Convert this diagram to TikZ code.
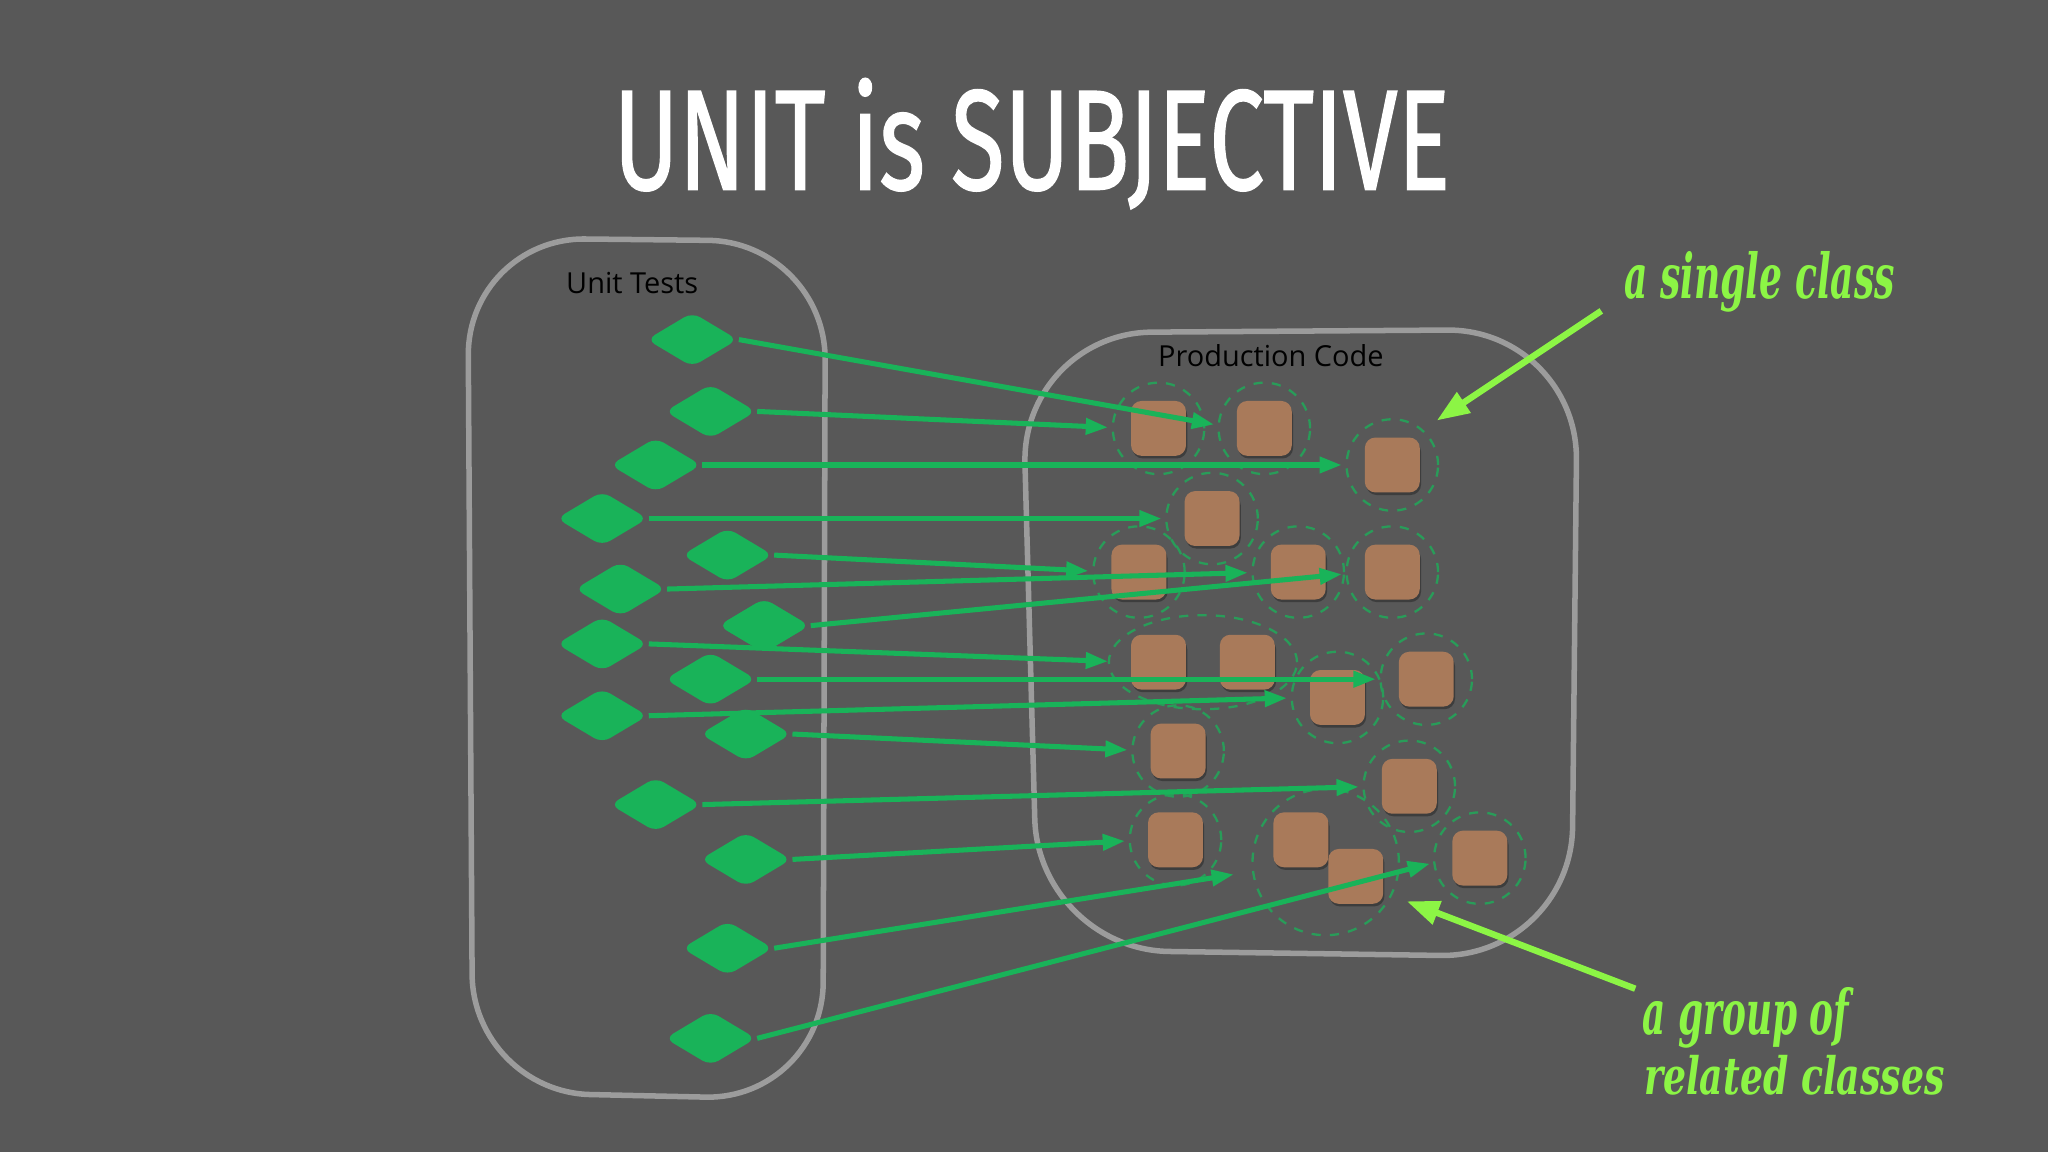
\documentclass[tikz,border=0pt]{standalone}
\usepackage{fontspec}
\usepackage{graphicx}
\setmainfont{Open Sans}
\newfontfamily\titlefont{Fira Sans}[FakeBold=1.2]
\newfontfamily\notefont{DejaVu Serif}
\usetikzlibrary{shapes.geometric,arrows.meta}
\definecolor{bg}{HTML}{585858}
\definecolor{tgreen}{HTML}{19B359}
\definecolor{box}{HTML}{A97A5A}
\definecolor{frame}{HTML}{9C9C9C}
\definecolor{note}{HTML}{8CF545}
\tikzset{
  testd/.style={diamond,fill=tgreen,minimum width=0.7cm,minimum height=0.42cm,inner sep=0pt,rounded corners=2pt},
  cls/.style={fill=box,minimum size=0.42cm,inner sep=0pt,rounded corners=0.08cm},
  ring/.style={draw=tgreen!75!bg,dashed,line width=0.5pt,dash pattern=on 2pt off 2pt},
  link/.style={draw=tgreen,line width=1.1pt,-{Triangle[length=0.17cm,width=0.12cm]},shorten >=0.17cm},
  noteline/.style={draw=note,line width=1.4pt,-{Triangle[length=0.25cm,width=0.18cm]}},
  cont/.style={draw=frame,line width=1.2pt},
  notetext/.style={text=note,font=\notefont\itshape\bfseries\fontsize{9}{9}\selectfont,inner sep=0pt}
}
\begin{document}
\begin{tikzpicture}[x=0.01cm,y=-0.01cm]
\fill[bg] (0,0) rectangle (1568,882);
\useasboundingbox (0,0) rectangle (1568,882);
\node[text=white,inner sep=0] (title) at (790,110) {\resizebox{6.4cm}{0.85cm}{\titlefont UNIT is SUBJECTIVE}};
% containers
\draw[cont,rounded corners=0.9cm] (358,182) -- (632,185) -- (630,842) -- (362,836) -- cycle;
\draw[cont,rounded corners=1.0cm] (782,255) -- (1208,252) -- (1203,733) -- (795,727) -- cycle;
\node[font=\fontsize{6.3}{8}\selectfont,text=black] (ut) at (484,217) {Unit Tests};
\node[font=\fontsize{6.3}{8}\selectfont,text=black] (pc) at (973,272) {Production Code};
% rings
\foreach \p in {(887,328),(968,328),(1066,356),(928,397),(872,438),(994,438),(1066,438),(1092,520),(1024,534),(902,575),(1079,602),(900,643),(1133,657)}
  \draw[ring] \p circle (0.35cm);
\draw[ring] (921,507) ellipse (0.72cm and 0.36cm);
\draw[ring] (1015,660) circle (0.56cm);
% classes
\foreach \n/\x/\y in {A/887/328,B/968/328,C/1066/356,D/928/397,E/872/438,F/994/438,G/1066/438,H/887/507,I/955/507,J/1024/534,K/1092/520,L/902/575,M/1079/602,N/900/643,O/996/643,P/1038/671,Q/1133/657}{
  \fill[black,opacity=0.3,rounded corners=0.08cm] (\x-20,\y-18) rectangle (\x+22,\y+23);
  \node[cls] (\n) at (\x,\y) {};
}
% tests
\foreach \n/\x/\y in {t1/530/260,t2/544/315,t3/502/356,t4/461/397,t5/557/425,t6/475/451,t8/461/493,t10/461/548,t7/585/479,t9/544/520,t11/571/562,t12/502/616,t13/571/658,t14/557/726,t15/544/795}
  \node[testd] (\n) at (\x,\y) {};
% links
\draw[link] (t1.east) -- (B.west);
\draw[link] (t2.east) -- (A.west);
\draw[link] (t3.east) -- (C.west);
\draw[link] (t4.east) -- (D.west);
\draw[link] (t5.east) -- (E.west);
\draw[link] (t6.east) -- (F.west);
\draw[link] (t7.east) -- (G.west);
\draw[link] (t8.east) -- (H.west);
\draw[link] (t9.east) -- (K.west);
\draw[link] (t10.east) -- (J.west);
\draw[link] (t11.east) -- (L.west);
\draw[link] (t12.east) -- (M.west);
\draw[link] (t13.east) -- (N.west);
\draw[link,shorten >=0.3cm] (t14.east) -- (O.south west);
\draw[link] (t15.east) -- (Q.west);
\node[testd] at (585,479) {};
% notes
\node[notetext,anchor=west] (n1) at (1243,216) {\resizebox{2.07cm}{0.36cm}{a single class}};
\node[notetext,anchor=west] (n2) at (1257,779) {\resizebox{1.58cm}{0.36cm}{a group of}};
\node[notetext,anchor=west] (n3) at (1258,823) {\resizebox{2.3cm}{0.3cm}{related classes}};
\coordinate (c1s) at (1226,238);
\coordinate (c1e) at (1100,322);
\coordinate (c2s) at (1252,757);
\coordinate (c2e) at (1077,690);
\draw[noteline] (c1s) -- (c1e);
\draw[noteline] (c2s) -- (c2e);
\end{tikzpicture}
\end{document}
